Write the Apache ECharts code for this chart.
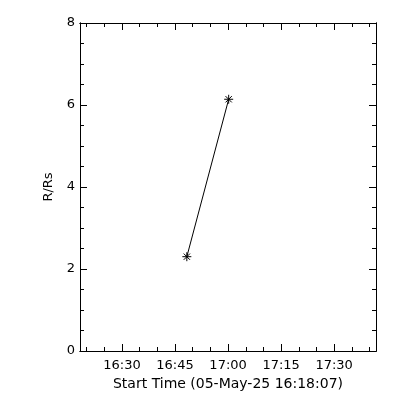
<!DOCTYPE html>
<html>
<head>
<meta charset="utf-8">
<script src="https://cdn.jsdelivr.net/npm/echarts@6/dist/echarts.min.js"></script>
<style>html,body{margin:0;padding:0;background:#fff;}#c{width:400px;height:400px;}</style>
</head>
<body>
<div id="c"></div>
<script>
// Data
var times = ['16:48:20', '17:00:10'];
var values = [2.30, 6.14];
var xMajorLabels = ['16:30', '16:45', '17:00', '17:15', '17:30'];
var xMinorLabels = ['16:20','16:25','16:35','16:40','16:50','16:55','17:05','17:10','17:20','17:25','17:35','17:40'];
var yMajor = [0, 2, 4, 6, 8];
var yMinor = [0.5,1,1.5,2.5,3,3.5,4.5,5,5.5,6.5,7,7.5];
var xStart = '16:18:07';
var xEnd = '17:41:50';
var xTitle = 'Start Time (05-May-25 16:18:07)';
var yTitle = 'R/Rs';

function toSec(t){var p=t.split(':').map(Number);return p[0]*3600+p[1]*60+(p[2]||0);}
function fmt(v){var h=Math.floor(v/3600),m=Math.round((v%3600)/60);return h+':'+(m<10?'0':'')+m;}

var FONT = 'DejaVu Sans';
var xmin = toSec(xStart), xmax = toSec(xEnd);
var xMaj = xMajorLabels.map(toSec), xMin = xMinorLabels.map(toSec);

function xAx(pos, ticks, len, label){
  return {
    type:'value', position:pos, min:xmin, max:xmax,
    axisLine:{show:true,onZero:false,lineStyle:{color:'#000',width:1}},
    splitLine:{show:false},
    axisTick:{show:true,inside:true,length:len,customValues:ticks,lineStyle:{color:'#000',width:1}},
    axisLabel: label ? {show:true,customValues:ticks,formatter:fmt,color:'#000',fontFamily:FONT,fontSize:13,margin:8} : {show:false},
    name: label ? xTitle : '', nameLocation:'middle', nameGap:23,
    nameTextStyle:{color:'#000',fontFamily:FONT,fontSize:14}
  };
}
function yAx(pos, ticks, len, label){
  return {
    type:'value', position:pos, min:0, max:8,
    axisLine:{show:true,onZero:false,lineStyle:{color:'#000',width:1}},
    splitLine:{show:false},
    axisTick:{show:true,inside:true,length:len,customValues:ticks,lineStyle:{color:'#000',width:1}},
    axisLabel: label ? {show:true,customValues:ticks,color:'#000',fontFamily:FONT,fontSize:13,margin:5} : {show:false},
    name: label ? yTitle : '', nameLocation:'middle', nameGap:25,
    nameTextStyle:{color:'#000',fontFamily:FONT,fontSize:13}
  };
}

var chart = echarts.init(document.getElementById('c'));
chart.setOption({
  animation:false,
  backgroundColor:'#fff',
  grid:{left:80,right:24,top:23,bottom:49,containLabel:false},
  xAxis:[xAx('bottom',xMaj,7,true),xAx('bottom',xMin,4,false),xAx('top',xMaj,7,false),xAx('top',xMin,4,false)],
  yAxis:[yAx('left',yMajor,7,true),yAx('left',yMinor,4,false),yAx('right',yMajor,7,false),yAx('right',yMinor,4,false)],
  series:[{
    type:'line', xAxisIndex:0, yAxisIndex:0,
    data: times.map(function(t,i){return [toSec(t), values[i]];}),
    lineStyle:{color:'#000',width:1},
    symbol:'path://M0,5 L10,5 M5,0 L5,10 M1.5,1.5 L8.5,8.5 M8.5,1.5 L1.5,8.5',
    symbolSize:9,
    itemStyle:{color:'transparent',borderColor:'#000',borderWidth:1},
    emphasis:{disabled:true}
  }]
});
</script>
</body>
</html>
